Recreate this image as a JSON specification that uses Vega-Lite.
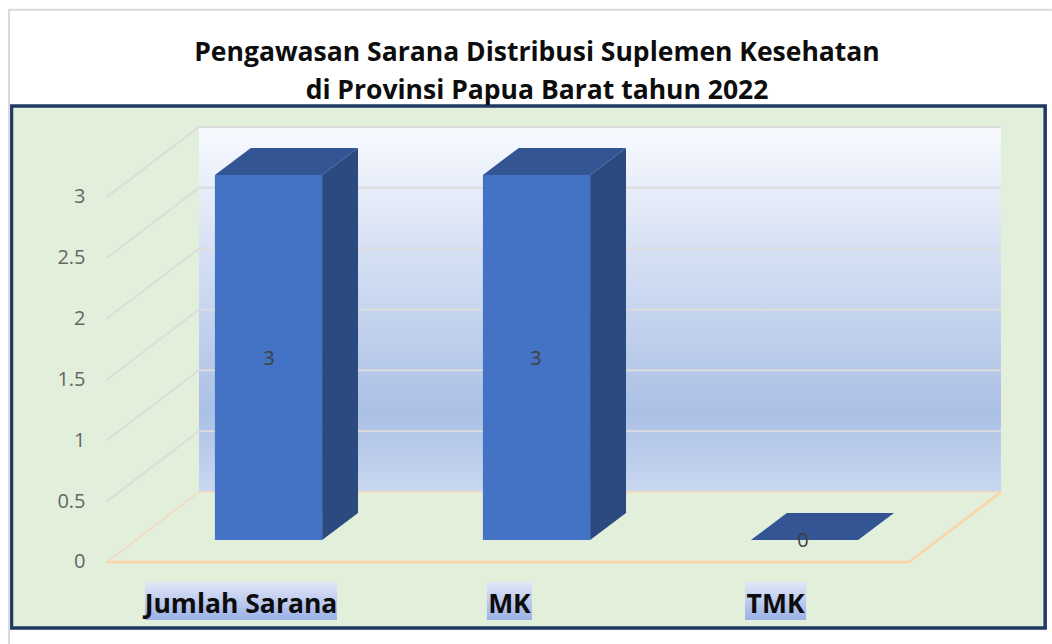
{"$schema":"https://vega.github.io/schema/vega-lite/v6.json","autosize":"none","padding":{"left":88,"top":100,"right":0,"bottom":0},"width":964,"height":544,"background":"white","view":{"stroke":null},
"title":{"text":["Pengawasan Sarana Distribusi Suplemen Kesehatan","di Provinsi Papua Barat tahun 2022"],"anchor":"middle","dx":-33,"dy":95,"offset":-4,"font":"Open Sans","fontSize":26.5,"fontWeight":"bold","color":"#0d0d0d","lineHeight":38},
"datasets":{
"panel":[{"x0":-0.959,"x1":2.898,"y0":-0.542,"y1":3.747}],
"wall":[{"x0":-0.2593,"x1":2.733,"y0":0.575,"y1":3.575}],
"border":[{"x":-0.968,"y":-0.674,"i":0},{"x":-0.968,"y":4.537,"i":1},{"x":2.923,"y":4.537,"i":2}],
"grid":[
{"level":0.5,"i":0,"x":-0.6026,"y":0.5},{"level":0.5,"i":1,"x":-0.2593,"y":1.075},{"level":0.5,"i":2,"x":2.733,"y":1.075},
{"level":1,"i":0,"x":-0.6026,"y":1},{"level":1,"i":1,"x":-0.2593,"y":1.575},{"level":1,"i":2,"x":2.733,"y":1.575},
{"level":1.5,"i":0,"x":-0.6026,"y":1.5},{"level":1.5,"i":1,"x":-0.2593,"y":2.075},{"level":1.5,"i":2,"x":2.733,"y":2.075},
{"level":2,"i":0,"x":-0.6026,"y":2},{"level":2,"i":1,"x":-0.2593,"y":2.575},{"level":2,"i":2,"x":2.733,"y":2.575},
{"level":2.5,"i":0,"x":-0.6026,"y":2.5},{"level":2.5,"i":1,"x":-0.2593,"y":3.075},{"level":2.5,"i":2,"x":2.733,"y":3.075},
{"level":3,"i":0,"x":-0.6026,"y":3},{"level":3,"i":1,"x":-0.2593,"y":3.575},{"level":3,"i":2,"x":2.733,"y":3.575}],
"floorBack":[{"i":0,"x":-0.6026,"y":0},{"i":1,"x":-0.2593,"y":0.575},{"i":2,"x":2.733,"y":0.575}],
"floorFront":[{"i":0,"x":-0.6026,"y":0},{"i":1,"x":2.39,"y":0},{"i":2,"x":2.733,"y":0.575}],
"bars":[
{"category":"Jumlah Sarana","x0":-0.2,"x1":0.2,"base":0.18,"top":3.18},
{"category":"MK","x0":0.8,"x1":1.2,"base":0.18,"top":3.18}],
"sides":[
{"category":"Jumlah Sarana","x":0.2,"base":0.18,"top":3.18},{"category":"Jumlah Sarana","x":0.334,"base":0.402,"top":3.402},
{"category":"MK","x":1.2,"base":0.18,"top":3.18},{"category":"MK","x":1.334,"base":0.402,"top":3.402}],
"tops":[
{"category":"Jumlah Sarana","y":3.18,"x0":-0.2,"x1":0.2},{"category":"Jumlah Sarana","y":3.402,"x0":-0.066,"x1":0.334},
{"category":"MK","y":3.18,"x0":0.8,"x1":1.2},{"category":"MK","y":3.402,"x0":0.934,"x1":1.334},
{"category":"TMK","y":0.18,"x0":1.8,"x1":2.2},{"category":"TMK","y":0.402,"x0":1.934,"x1":2.334}],
"values":[
{"category":"Jumlah Sarana","value":3,"x":0.002,"y":1.668},
{"category":"MK","value":3,"x":0.998,"y":1.668},
{"category":"TMK","value":0,"x":1.994,"y":0.173}],
"labels":[
{"category":"Jumlah Sarana","x":-0.1026,"x0":-0.461,"x1":0.2556,"lo":-0.477,"hi":-0.164,"ly":-0.353},
{"category":"MK","x":0.899,"x0":0.815,"x1":0.983,"lo":-0.477,"hi":-0.164,"ly":-0.353},
{"category":"TMK","x":1.892,"x0":1.778,"x1":2.006,"lo":-0.477,"hi":-0.164,"ly":-0.353}]
},
"layer":[
{"data":{"name":"panel"},"mark":{"type":"rect","fill":"#e2efda","stroke":"#1f3864","strokeWidth":3.5},
 "encoding":{"x":{"field":"x0","type":"quantitative","scale":{"domain":[-0.6735,2.9235],"nice":false,"zero":false},"axis":null},"x2":{"field":"x1"},
  "y":{"field":"y0","type":"quantitative","scale":{"domain":[-0.674,3.796],"nice":false,"zero":false},"axis":{"title":null,"values":[0,0.5,1,1.5,2,2.5,3],"format":"~g","grid":false,"domain":false,"ticks":false,"labelPadding":3,"labelFont":"Open Sans","labelFontSize":20,"labelColor":"#666666","zindex":1}},"y2":{"field":"y1"}}},
{"data":{"name":"border"},"mark":{"type":"line","stroke":"#d9d9d9","strokeWidth":2},"encoding":{"x":{"field":"x","type":"quantitative"},"y":{"field":"y","type":"quantitative"},"order":{"field":"i"}}},
{"data":{"name":"wall"},"mark":{"type":"rect","color":{"gradient":"linear","x1":0,"y1":0,"x2":0,"y2":1,"stops":[{"offset":0,"color":"#f8faff"},{"offset":0.78,"color":"#abc0e5"},{"offset":1,"color":"#c9d8f0"}]}},
 "encoding":{"x":{"field":"x0","type":"quantitative"},"x2":{"field":"x1"},"y":{"field":"y0","type":"quantitative"},"y2":{"field":"y1"}}},
{"data":{"name":"grid"},"mark":{"type":"line","stroke":"#dcdcdc","strokeWidth":2},"encoding":{"x":{"field":"x","type":"quantitative"},"y":{"field":"y","type":"quantitative"},"detail":{"field":"level"},"order":{"field":"i"}}},
{"data":{"name":"floorBack"},"mark":{"type":"line","stroke":"#f3dcc4","strokeWidth":2},"encoding":{"x":{"field":"x","type":"quantitative"},"y":{"field":"y","type":"quantitative"},"order":{"field":"i"}}},
{"data":{"name":"floorFront"},"mark":{"type":"line","stroke":"#fbd5a5","strokeWidth":2.5},"encoding":{"x":{"field":"x","type":"quantitative"},"y":{"field":"y","type":"quantitative"},"order":{"field":"i"}}},
{"data":{"name":"sides"},"mark":{"type":"area","color":"#2a4a80"},"encoding":{"x":{"field":"x","type":"quantitative"},"y":{"field":"base","type":"quantitative"},"y2":{"field":"top"},"detail":{"field":"category"}}},
{"data":{"name":"tops"},"mark":{"type":"area","orient":"horizontal","color":"#335593"},"encoding":{"y":{"field":"y","type":"quantitative"},"x":{"field":"x0","type":"quantitative"},"x2":{"field":"x1"},"detail":{"field":"category"}}},
{"data":{"name":"bars"},"mark":{"type":"rect","color":"#4472c4"},"encoding":{"x":{"field":"x0","type":"quantitative"},"x2":{"field":"x1"},"y":{"field":"base","type":"quantitative"},"y2":{"field":"top"}}},
{"data":{"name":"values"},"mark":{"type":"text","font":"Open Sans","fontSize":20,"color":"#404040"},"encoding":{"x":{"field":"x","type":"quantitative"},"y":{"field":"y","type":"quantitative"},"text":{"field":"value","type":"quantitative"}}},
{"data":{"name":"labels"},"mark":{"type":"rect","color":{"gradient":"linear","x1":0,"y1":0,"x2":0,"y2":1,"stops":[{"offset":0,"color":"#e1e7f7"},{"offset":1,"color":"#9bb0e6"}]}},"encoding":{"x":{"field":"x0","type":"quantitative"},"x2":{"field":"x1"},"y":{"field":"lo","type":"quantitative"},"y2":{"field":"hi"}}},
{"data":{"name":"labels"},"mark":{"type":"text","font":"Open Sans","fontSize":26.5,"fontWeight":"bold","color":"#0d0d0d"},"encoding":{"x":{"field":"x","type":"quantitative"},"y":{"field":"ly","type":"quantitative"},"text":{"field":"category","type":"nominal"}}}
]}
